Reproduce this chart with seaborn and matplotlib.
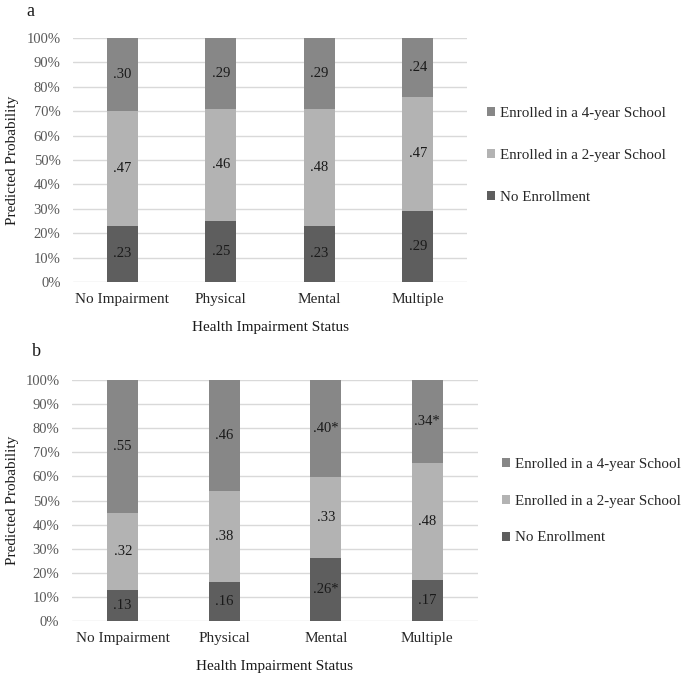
import numpy as np
import pandas as pd
import seaborn as sns
import matplotlib
matplotlib.use("Agg")
import matplotlib.pyplot as plt
from matplotlib.patches import Patch

sns.set_style("white")
plt.rcParams["font.family"] = ["Liberation Serif", "DejaVu Serif"]

categories = ["No Impairment", "Physical", "Mental", "Multiple"]
series_names = ["No Enrollment", "Enrolled in a 2-year School", "Enrolled in a 4-year School"]

# Panel a
a_none = [0.23, 0.25, 0.23, 0.29]
a_two = [0.47, 0.46, 0.48, 0.47]
a_four = [0.30, 0.29, 0.29, 0.24]
a_labels_none = [".23", ".25", ".23", ".29"]
a_labels_two = [".47", ".46", ".48", ".47"]
a_labels_four = [".30", ".29", ".29", ".24"]

# Panel b
b_none = [0.13, 0.16, 0.26, 0.17]
b_two = [0.32, 0.38, 0.33, 0.48]
b_four = [0.55, 0.46, 0.40, 0.34]
b_labels_none = [".13", ".16", ".26*", ".17"]
b_labels_two = [".32", ".38", ".33", ".48"]
b_labels_four = [".55", ".46", ".40*", ".34*"]

yticks = [0, 0.1, 0.2, 0.3, 0.4, 0.5, 0.6, 0.7, 0.8, 0.9, 1.0]
ytick_labels = ["0%", "10%", "20%", "30%", "40%", "50%", "60%", "70%", "80%", "90%", "100%"]

col_none = "#5e5e5e"
col_two = "#b3b3b3"
col_four = "#878787"
grid_col = "#d9d9d9"

fig = plt.figure(figsize=(6.83, 6.82), dpi=100)


def draw_panel(ax, none, two, four, lab_none, lab_two, lab_four, width):
    none = np.array(none)
    two = np.array(two)
    four = np.array(four)
    total = none + two + four
    # normalise so stacks reach 100% as in the original
    n1 = none / total
    n2 = (none + two) / total
    n3 = np.ones_like(total)
    df = pd.DataFrame({"cat": categories, "c1": n1, "c2": n2, "c3": n3})
    for col, c in [("c3", col_four), ("c2", col_two), ("c1", col_none)]:
        sns.barplot(data=df, x="cat", y=col, order=categories, color=c,
                    saturation=1, width=width, ax=ax, zorder=3,
                    edgecolor="none", linewidth=0)
    for i in range(len(categories)):
        ax.text(i, n1[i] / 2, lab_none[i], ha="center", va="center",
                fontsize=10.5, color="#1a1a1a", zorder=5)
        ax.text(i, (n1[i] + n2[i]) / 2, lab_two[i], ha="center", va="center",
                fontsize=10.5, color="#1a1a1a", zorder=5)
        ax.text(i, (n2[i] + 1) / 2, lab_four[i], ha="center", va="center",
                fontsize=10.5, color="#1a1a1a", zorder=5)
    ax.set_xlim(-0.5, len(categories) - 0.5)
    ax.set_ylim(0, 1.0)
    ax.set_yticks(yticks)
    ax.set_yticklabels(ytick_labels, fontsize=10.5, color="#595959")
    ax.set_xticks(range(len(categories)))
    ax.set_xticklabels(categories, fontsize=11, color="#262626")
    ax.tick_params(axis="y", length=0, pad=9)
    ax.tick_params(axis="x", length=0, pad=8)
    ax.yaxis.grid(True, color=grid_col, linewidth=1, zorder=0)
    ax.set_axisbelow(True)
    for s in ax.spines.values():
        s.set_visible(False)
    ax.set_xlabel("Health Impairment Status", fontsize=11, color="#1a1a1a", labelpad=11)
    ax.set_ylabel("Predicted Probability", fontsize=11, color="#1a1a1a")


ax_a = fig.add_axes([73 / 683, 1 - 282 / 682, 394 / 683, 244 / 682])
draw_panel(ax_a, a_none, a_two, a_four, a_labels_none, a_labels_two, a_labels_four, 0.315)
ax_a.yaxis.set_label_coords(-0.137, 0.5)

ax_b = fig.add_axes([72 / 683, 1 - 621 / 682, 406 / 683, 241 / 682])
draw_panel(ax_b, b_none, b_two, b_four, b_labels_none, b_labels_two, b_labels_four, 0.305)
ax_b.yaxis.set_label_coords(-0.131, 0.5)

handles = [Patch(facecolor=col_four, edgecolor="none"),
           Patch(facecolor=col_two, edgecolor="none"),
           Patch(facecolor=col_none, edgecolor="none")]
leg_labels = [series_names[2], series_names[1], series_names[0]]

fig.legend(handles, leg_labels, loc="upper left", bbox_to_anchor=(487 / 683, 1 - 107 / 682),
           frameon=False, fontsize=10.8, handlelength=0.55, handleheight=0.55,
           handletextpad=0.3, labelspacing=1.93, borderpad=0, borderaxespad=0)
fig.legend(handles, leg_labels, loc="upper left", bbox_to_anchor=(502 / 683, 1 - 458 / 682),
           frameon=False, fontsize=10.8, handlelength=0.55, handleheight=0.55,
           handletextpad=0.3, labelspacing=1.58, borderpad=0, borderaxespad=0)

fig.text(30 / 683, 1 - 11 / 682, "a", fontsize=13, ha="center", va="center", color="#1a1a1a")
fig.text(36 / 683, 1 - 352 / 682, "b", fontsize=13, ha="center", va="center", color="#1a1a1a")

fig.savefig("out.png", dpi=100, facecolor="white")
